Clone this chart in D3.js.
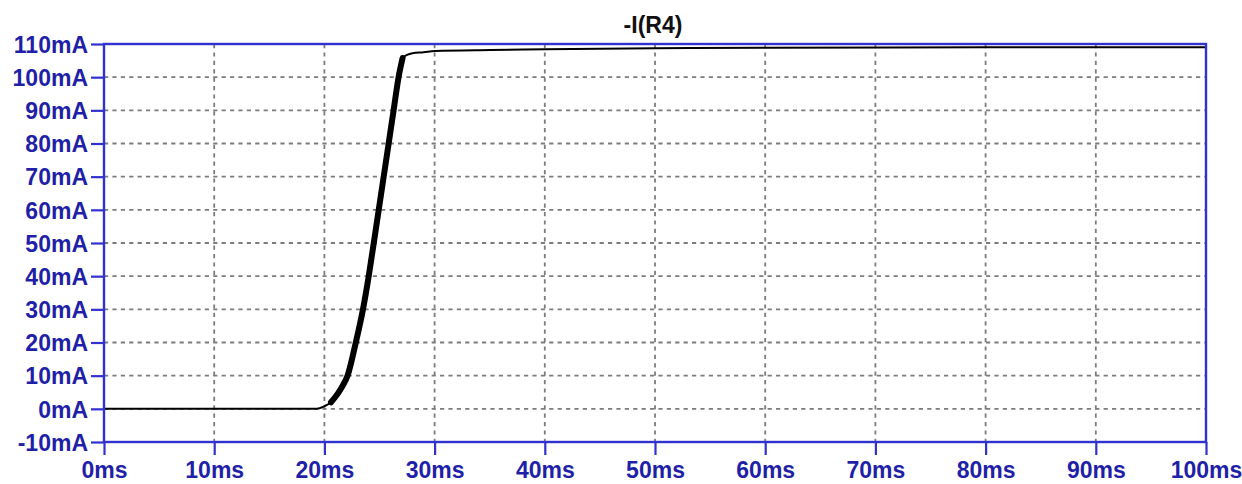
<!DOCTYPE html>
<html>
<head>
<meta charset="utf-8">
<script src="https://cdn.jsdelivr.net/npm/d3@7"></script>
<style>
  html, body { margin: 0; padding: 0; background: #fff; }
  svg { display: block; }
  text { font-family: "Liberation Sans", Arial, sans-serif; font-weight: bold; }
</style>
</head>
<body>
<svg id="chart" width="1242" height="484"></svg>
<script>
// ---- data ----
const title = "-I(R4)";
const timeMs = [0, 19.3, 20.0, 20.6, 21.2, 21.7, 22.1, 22.85, 23.5, 24.02, 24.48, 24.93, 25.38, 25.83, 26.28, 26.73, 27.1, 27.5, 28.0, 29.0, 30.0, 35.0, 40.0, 50.0, 60.0, 80.0, 100.0];
const currentMA = [0, 0, 0.8, 2, 4.5, 7.2, 10, 20, 30, 40, 50, 60, 70, 80, 90, 100, 105.8, 106.7, 107.2, 107.5, 107.9, 108.2, 108.4, 108.7, 108.9, 109.0, 109.0];
const xTicks = [0, 10, 20, 30, 40, 50, 60, 70, 80, 90, 100];
const yTicks = [-10, 0, 10, 20, 30, 40, 50, 60, 70, 80, 90, 100, 110];
// time range where the trace shows dense ripple (drawn as a thick band)
const rippleStartMs = 20.6, rippleEndMs = 27.1;

// ---- layout ----
const L = 104, R = 1206, T = 44, B = 442;
const svg = d3.select("#chart");
const x = d3.scaleLinear().domain([0, 100]).range([L, R]);
const y = d3.scaleLinear().domain([-10, 110]).range([B, T]);
const blue = "#3131cf", labelBlue = "#1f1fa8";

// grid
const grid = svg.append("g").attr("stroke", "#7c7c7c").attr("stroke-width", 1.8)
  .attr("stroke-dasharray", "4.2,4.2").attr("fill", "none");
grid.selectAll("line.v").data(xTicks.filter(d => d > 0 && d < 100)).enter().append("line")
  .attr("x1", d => x(d)).attr("x2", d => x(d)).attr("y1", T).attr("y2", B);
grid.selectAll("line.h").data(yTicks.filter(d => d > -10 && d < 110)).enter().append("line")
  .attr("x1", L).attr("x2", R).attr("y1", d => y(d)).attr("y2", d => y(d));

// axes
const xAxis = d3.axisBottom(x).tickValues(xTicks).tickSize(13).tickPadding(6).tickFormat(d => d + "ms");
const yAxis = d3.axisLeft(y).tickValues(yTicks).tickSize(13).tickPadding(3).tickFormat(d => d + "mA");

const gx = svg.append("g").attr("transform", `translate(0,${B})`).call(xAxis);
const gy = svg.append("g").attr("transform", `translate(${L},0)`).call(yAxis);
[gx, gy].forEach(g => {
  g.select(".domain").remove();
  g.selectAll(".tick line").attr("stroke", blue).attr("stroke-width", 2.2);
  g.selectAll(".tick text").attr("fill", labelBlue).attr("font-size", 23)
    .attr("font-family", "'Liberation Sans', Arial, sans-serif").attr("font-weight", "bold");
});
gy.selectAll(".tick text").attr("dy", "0.36em");
gx.selectAll(".tick text").attr("dy", "0.72em");

// trace
const pts = timeMs.map((t, i) => [t, currentMA[i]]);
const line = d3.line().x(d => x(d[0])).y(d => y(d[1])).curve(d3.curveMonotoneX);
svg.append("path").datum(pts).attr("d", line)
  .attr("fill", "none").attr("stroke", "#000").attr("stroke-width", 2).attr("stroke-linejoin", "round");
svg.append("path").datum(pts.filter(d => d[0] >= rippleStartMs && d[0] <= rippleEndMs)).attr("d", line)
  .attr("fill", "none").attr("stroke", "#000").attr("stroke-width", 6).attr("stroke-linejoin", "round").attr("stroke-linecap", "round");

// frame
svg.append("rect").attr("x", L).attr("y", T).attr("width", R - L).attr("height", B - T)
  .attr("fill", "none").attr("stroke", blue).attr("stroke-width", 2.4);

// title
svg.append("text").attr("x", 653).attr("y", 33).attr("text-anchor", "middle")
  .attr("font-size", 23).attr("fill", "#111").text(title);
</script>
</body>
</html>
